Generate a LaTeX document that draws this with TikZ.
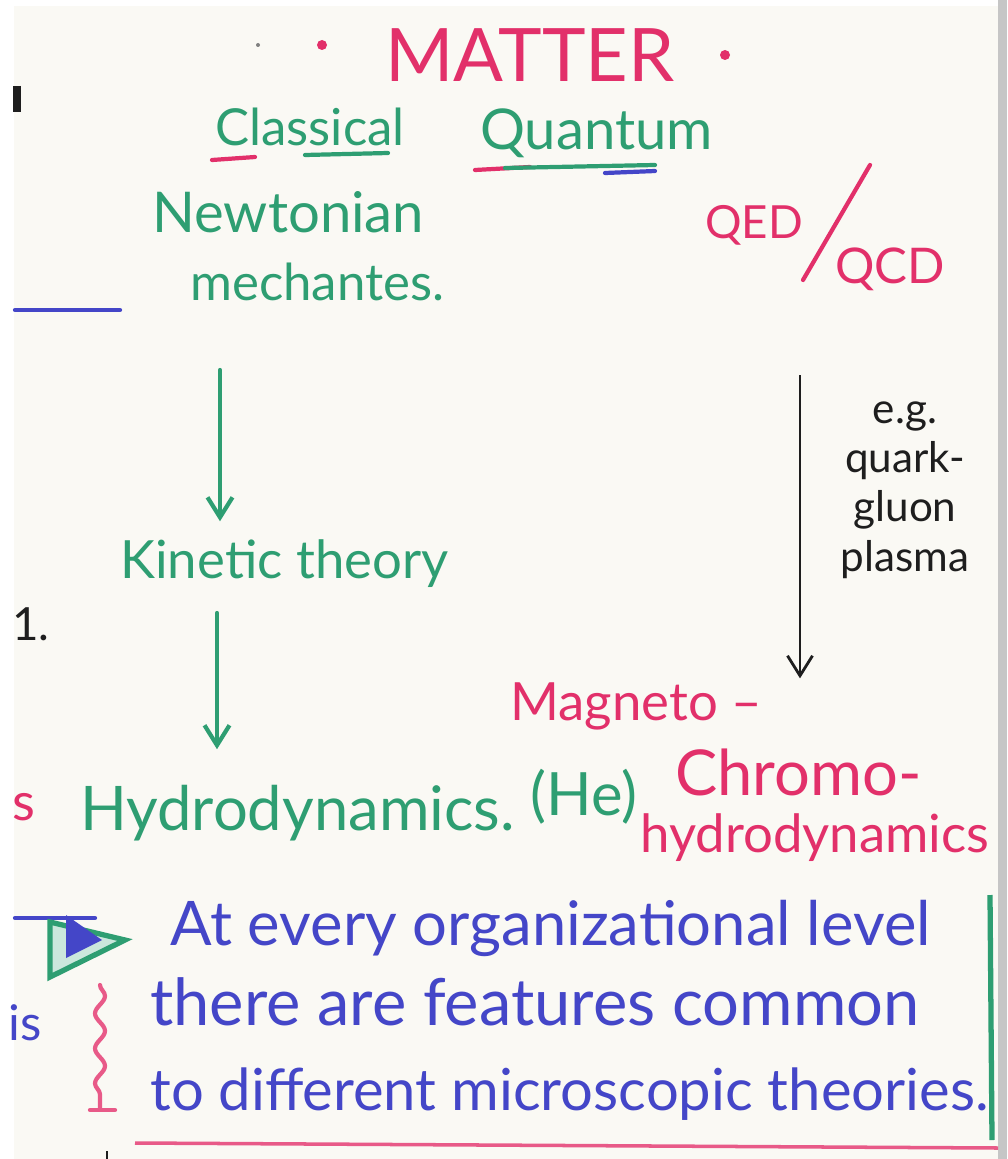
\documentclass[tikz,border=0pt]{standalone}
\usepackage{fontspec}
\setmainfont{Lato}
\usepackage{tikz}
\usetikzlibrary{arrows.meta, positioning, decorations.pathmorphing}
\definecolor{inkgreen}{HTML}{2E9E72}
\definecolor{inkred}{HTML}{E2306A}
\definecolor{inkblue}{HTML}{4446C8}
\definecolor{inkblack}{HTML}{1E1E1E}
\definecolor{paper}{HTML}{FAF9F4}

\begin{document}
\begin{tikzpicture}[x=0.02cm, y=-0.02cm, >={Straight Barb[length=4mm, width=5mm]}]
  \tikzset{
    hand/.style={inner sep=0pt, anchor=base west},
    fs/.style={font=\fontsize{#1}{#1}\selectfont},
    pen/.style={line width=2.4pt, line cap=round},
  }
  \useasboundingbox (0,0) rectangle (1007,1159);

  % Paper sheet and its edges
  \fill[white] (0,0) rectangle (1007,1159);
  \fill[paper] (14,6) rectangle (998,1159);
  \fill[gray!45] (998,0) rectangle (1007,1159);

  % Title
  \fill[gray] (258,45) circle (2);
  \fill[inkred] (322,45) circle (5);
  \node[hand, fs=42, inkred] (matter) at (385,82) {MATTER};
  \fill[inkred] (725,55) circle (5);

  % Classical / Quantum heads with underlines
  \node[hand, fs=29, inkgreen] (classical) at (215,145) {Classical};
  \node[hand, fs=32, inkgreen] (quantum) at (480,150) {Quantum};
  \draw[pen, inkred] (212,160) -- (255,157);
  \draw[pen, inkgreen] (305,155) -- (388,153);
  \draw[pen, inkred] (475,170) -- (530,167);
  \draw[pen, inkgreen] (505,168) -- (655,165);
  \draw[pen, inkblue] (605,173) -- (655,171);

  % Classical column
  \node[hand, fs=32, inkgreen] (newton) at (152,232) {Newtonian};
  \node[hand, fs=29, inkgreen] (mech) at (190,300) {mechantes.};
  \node[hand, fs=30, inkgreen] (kin) at (120,578) {Kinetic theory};
  \node[hand, fs=35, inkgreen] (hydro) at (80,830) {Hydrodynamics.};

  \coordinate (a1) at (220,370);
  \coordinate (a2) at (217,613);
  \draw[->, pen, inkgreen] (a1) -- (a1 |- kin.north) [shorten >=10];
  \draw[->, pen, inkgreen] (a2) -- (a2 |- hydro.north) [shorten >=20];

  % Quantum column
  \node[hand, fs=26, inkred] (qed) at (705,238) {QED};
  \draw[pen, inkred] (803,280) -- (870,165);
  \node[hand, fs=28, inkred] (qcd) at (835,283) {QCD};

  \coordinate (b1) at (800,375);
  \node[hand, fs=30, inkred] (magneto) at (510,720) {Magneto –};
  \node[hand, fs=34, inkgreen] (he) at (530,815) {(He)};
  \node[hand, fs=36, inkred] (chromo) at (675,795) {Chromo-};
  \node[hand, fs=30, inkred] (mhd) at (640,852) {hydrodynamics};
  \draw[->, line width=1.6pt, inkblack] (b1) -- (b1 |- magneto.north) [shorten >=2];

  \node[font=\fontsize{24}{28}\selectfont, inkblack, align=center, inner sep=0pt] (qgp) at (905,490)
    {e.g.\\quark-\\gluon\\plasma};

  % Cut-off marks at the left edge
  \draw[line width=4pt, inkblack] (17,86) -- (17,112);
  \draw[pen, inkblue] (15,310) -- (120,310);
  \node[hand, fs=26, inkblack] (cut1) at (12,640) {1.};
  \node[hand, fs=30, inkred] (cut2) at (12,820) {s};
  \node[hand, fs=28, inkblue] (cut3) at (8,1040) {is};

  % Pointer and summary
  \draw[pen, inkblue] (15,918) -- (95,918);
  \draw[line width=3pt, inkgreen, fill=inkgreen!25] (50,922) -- (125,940) -- (50,977) -- cycle;
  \fill[inkblue] (66,915) -- (102,940) -- (66,958) -- cycle;
  \node[hand, fs=35, inkblue] (line1) at (170,945) {At every organizational level};
  \node[hand, fs=37, inkblue] (line2) at (150,1025) {there are features common};
  \node[hand, fs=33, inkblue] (line3) at (150,1110) {to different microscopic theories.};
  \draw[pen, inkred!80, decorate, decoration={snake, amplitude=1mm, segment length=7mm}]
    (100,985) -- (100,1108);
  \draw[pen, inkred!80] (90,1110) -- (115,1110);

  % Frame strokes
  \draw[line width=3pt, inkgreen] (990,895) -- (992,1140);
  \draw[line width=2pt, inkred!80] (135,1143) -- (998,1148);
  \draw[line width=1.5pt, inkblack] (107,1151) -- (107,1159);
\end{tikzpicture}
\end{document}
